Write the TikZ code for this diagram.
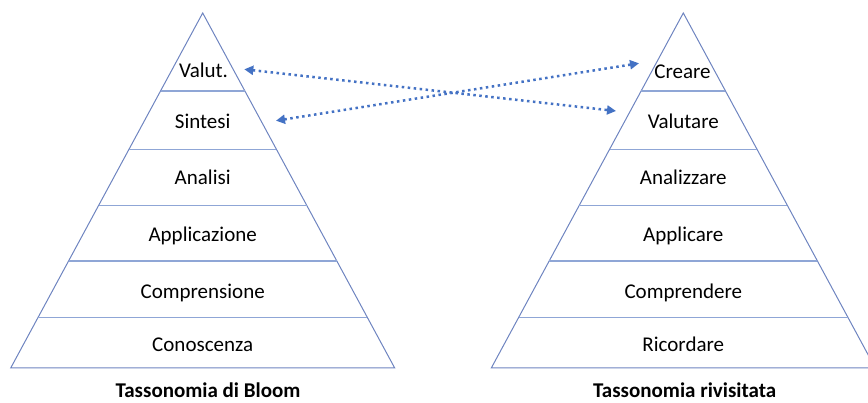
\documentclass[tikz,border=0pt]{standalone}
\usepackage{fontspec}
\setmainfont{Carlito}
\usetikzlibrary{arrows.meta}
\definecolor{edgeblue}{RGB}{110,132,192}
\definecolor{layerblue}{RGB}{143,166,214}
\definecolor{arrowblue}{RGB}{68,114,196}
\tikzset{
  pyr/.style={draw=edgeblue, line width=1pt},
  layer/.style={draw=layerblue, line width=1.4pt},
  lbl/.style={anchor=base, inner sep=0pt, font=\fontsize{21}{25}\selectfont},
  ttl/.style={anchor=base, inner sep=0pt, font=\fontsize{21}{25}\selectfont\bfseries},
  link/.style={draw=arrowblue, line width=2.5pt, dash pattern=on 2.5pt off 3.5pt,
    {Triangle[length=9pt,width=9pt]}-{Triangle[length=9pt,width=9pt]}}
}
\begin{document}
\begin{tikzpicture}[x=1pt,y=-1pt]
\useasboundingbox (0,0) rectangle (868,403);
\clip (0,0) rectangle (868,403);
% left pyramid
\coordinate (LA) at (202.7,13);
\coordinate (LL) at (10.7,368);
\coordinate (LR) at (394.7,368);
\draw[pyr] (LL) -- (LA) -- (LR) -- cycle;
\foreach \y in {91,149.3,205.3,261,317.3}{
  \pgfmathsetmacro{\dx}{(\y-13)*0.5408}
  \draw[layer] (202.7-\dx,\y) -- (202.7+\dx,\y);
}
% right pyramid
\coordinate (RA) at (683.3,13);
\coordinate (RL) at (491.3,368);
\coordinate (RR) at (875.3,368);
\draw[pyr] (RL) -- (RA) -- (RR) -- cycle;
\foreach \y in {91,149.3,205.3,261,317.3}{
  \pgfmathsetmacro{\dx}{(\y-13)*0.5408}
  \draw[layer] (683.3-\dx,\y) -- (683.3+\dx,\y);
}
% left labels
\node[lbl] (lv) at (203.5,78) {Valut.};
\node[lbl] (ls) at (202.7,128.5) {Sintesi};
\node[lbl] (lan) at (202.7,184.5) {Analisi};
\node[lbl] (lap) at (202.7,241.7) {Applicazione};
\node[lbl] (lc) at (202.7,298.3) {Comprensione};
\node[lbl] (lk) at (202.7,351.5) {Conoscenza};
% right labels
\node[lbl] (rc) at (682.5,78.3) {Creare};
\node[lbl] (rv) at (683.3,128.3) {Valutare};
\node[lbl] (ran) at (683.3,185) {Analizzare};
\node[lbl] (rap) at (683.3,241.7) {Applicare};
\node[lbl] (rcp) at (683.3,298.3) {Comprendere};
\node[lbl] (rr) at (683.3,351.7) {Ricordare};
% titles
\node[ttl] (t1) at (208,398) {Tassonomia di Bloom};
\node[ttl] (t2) at (684.7,398) {Tassonomia rivisitata};
% arrows
\coordinate (a1) at (244.3,69.3);
\coordinate (b1) at (616,111);
\coordinate (a2) at (276,120.7);
\coordinate (b2) at (639,63.3);
\draw[link] (a1) -- (b1);
\draw[link] (a2) -- (b2);
\end{tikzpicture}
\end{document}
